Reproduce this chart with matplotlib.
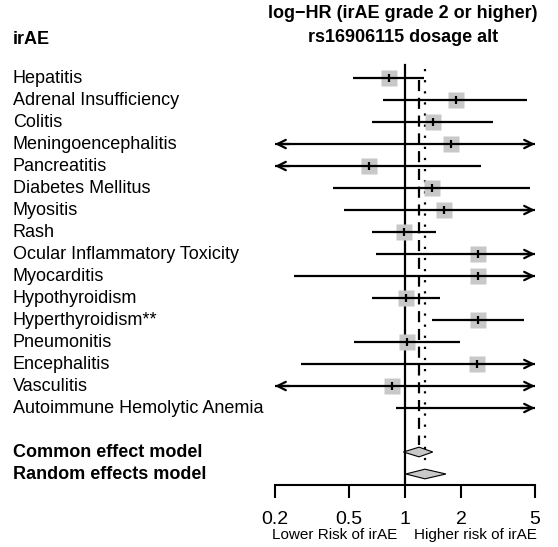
import numpy as np
import matplotlib.pyplot as plt
import matplotlib.transforms as mtrans
from matplotlib.patches import Polygon

plt.rcParams['font.family'] = ['Liberation Sans', 'DejaVu Sans']

# irAE studies: HR with 95% CI (values beyond the axis get arrows)
labels = ["Hepatitis", "Adrenal Insufficiency", "Colitis", "Meningoencephalitis",
          "Pancreatitis", "Diabetes Mellitus", "Myositis", "Rash",
          "Ocular Inflammatory Toxicity", "Myocarditis", "Hypothyroidism",
          "Hyperthyroidism**", "Pneumonitis", "Encephalitis", "Vasculitis",
          "Autoimmune Hemolytic Anemia"]
hr = [0.82, 1.88, 1.41, 1.77, 0.64, 1.40, 1.62, 0.99, 2.47, 2.47, 1.01, 2.47, 1.02, 2.44, 0.85, 8.0]
lower = [0.525, 0.76, 0.665, 0.05, 0.05, 0.41, 0.47, 0.665, 0.70, 0.254, 0.665, 1.40, 0.53, 0.276, 0.05, 0.89]
upper = [1.27, 4.53, 2.97, 20.0, 2.56, 4.7, 20.0, 1.47, 20.0, 20.0, 1.54, 4.36, 1.98, 20.0, 20.0, 20.0]

pooled_labels = ["Common effect model", "Random effects model"]
pooled_hr = [1.19, 1.28]
pooled_lo = [0.98, 1.01]
pooled_hi = [1.41, 1.66]

xticks = [0.2, 0.5, 1, 2, 5]
xmin, xmax = 0.2, 5

W, H = 558, 547
fig = plt.figure(figsize=(W / 100, H / 100), dpi=100)
ax = fig.add_axes([275 / W, 62 / H, 260 / W, 425 / H])
ax.set_xscale('log')
ax.set_xlim(xmin, xmax)
ax.set_ylim(18.5, -0.82)
for s in ['top', 'left', 'right']:
    ax.spines[s].set_visible(False)
ax.spines['bottom'].set_linewidth(1.5)
ax.set_yticks([])
ax.set_xticks(xticks)
ax.set_xticklabels([f"{t:g}" for t in xticks], fontsize=14)
ax.xaxis.set_minor_locator(plt.NullLocator())
ax.tick_params(axis='x', direction='out', length=9, width=1.5, pad=10)

n = len(labels)
rows = np.arange(n)
prow = [n + 1, n + 2]

# reference lines: null, common, random
ax.plot([1, 1], [-0.6, 18.5], color='black', lw=1.6, zorder=1)
ax.plot([pooled_hr[0]] * 2, [0.1, prow[0] - 0.3], color='black', lw=1.6,
        ls=(0, (5, 3)), zorder=1)
ax.plot([pooled_hr[1]] * 2, [-0.4, prow[1] - 0.3], color='black', lw=1.6,
        ls=(0, (1, 4)), zorder=1)

arr = dict(arrowstyle='->,head_length=0.6,head_width=0.3', lw=1.6, color='black',
           shrinkA=0, shrinkB=0)
for i in range(n):
    y = rows[i]
    lo, hi = max(lower[i], xmin), min(upper[i], xmax)
    if xmin < hr[i] < xmax:
        ax.plot(hr[i], y, marker='s', ms=12, color='#c8c8c8', mec='none', zorder=2)
        ax.plot(hr[i], y, marker='|', ms=6, mew=1.6, color='black', zorder=4)
    ax.plot([lo, hi], [y, y], color='black', lw=1.6, zorder=3, solid_capstyle='butt')
    if upper[i] > xmax:
        ax.annotate('', xy=(xmax, y), xytext=(xmax / 1.2, y), arrowprops=arr,
                    annotation_clip=False)
    if lower[i] < xmin:
        ax.annotate('', xy=(xmin, y), xytext=(xmin * 1.2, y), arrowprops=arr,
                    annotation_clip=False)

for k in range(2):
    y = prow[k]
    d = Polygon([[pooled_lo[k], y], [pooled_hr[k], y - 0.22], [pooled_hi[k], y],
                 [pooled_hr[k], y + 0.22]], closed=True, facecolor='#c8c8c8',
                edgecolor='black', lw=0.8, zorder=4)
    ax.add_patch(d)

# left labels
bt = mtrans.blended_transform_factory(fig.transFigure, ax.transData)
for i, lab in enumerate(labels):
    ax.text(13 / W, rows[i], lab, fontsize=13, va='center', ha='left', transform=bt)
for k, lab in enumerate(pooled_labels):
    ax.text(13 / W, prow[k], lab, fontsize=13, va='center', ha='left',
            fontweight='bold', transform=bt)

fig.text(13 / W, 1 - 40 / H, 'irAE', fontsize=13, fontweight='bold', va='center')
fig.text(403 / W, 1 - 13 / H, 'log\u2212HR (irAE grade 2 or higher)', fontsize=13,
         fontweight='bold', va='center', ha='center')
fig.text(403 / W, 1 - 37 / H, 'rs16906115 dosage alt', fontsize=13,
         fontweight='bold', va='center', ha='center')
fig.text(335 / W, 1 - 535 / H, 'Lower Risk of irAE', fontsize=11, va='center', ha='center')
fig.text(475 / W, 1 - 535 / H, 'Higher risk of irAE', fontsize=11, va='center', ha='center')

fig.savefig('out.png', dpi=100)
